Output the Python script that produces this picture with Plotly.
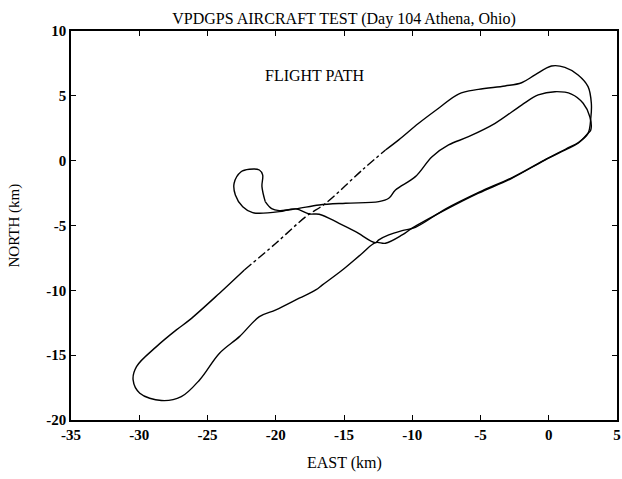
import plotly.graph_objects as go

# Flight path, solid part 1: small loop exit -> inner route -> lower diagonal -> big south loop
east_a = [-20.77, -20.3, -19.74, -18.53, -16.82, -14.88, -12.45, -11.72, -11.23, -9.77,
          -8.55, -7.34, -5.88, -3.93, -1.99, -0.77, 0.45, 1.66, 2.52, 3.01, 3.08, 2.88,
          2.15, 1.18, -0.28, -2.71, -5.15, -7.58, -10.01, -10.74, -11.96, -12.69, -13.66,
          -15.12, -16.58, -17.07, -18.28, -19.99, -21.2, -22.66, -24.12, -25.58, -26.92,
          -28.38, -29.96, -30.45, -30.2, -28.74, -27.28, -26.31, -24.12, -22.3]
north_a = [-3.16, -3.7, -3.85, -3.72, -3.42, -3.28, -3.16, -2.9, -2.26, -1.23,
           0.31, 1.21, 1.85, 2.88, 4.29, 5.07, 5.32, 5.14, 4.43, 3.39, 2.37, 2.11,
           1.34, 0.82, 0.05, -1.36, -2.51, -3.8, -5.21, -5.73, -6.37, -6.32, -7.14,
           -8.43, -9.58, -9.97, -10.61, -11.51, -12.03, -13.57, -14.85, -16.91, -18.2,
           -18.5, -17.93, -16.91, -15.88, -14.34, -13.05, -12.28, -10.22, -8.43]

# Part 2 (broken / dash-dot looking diagonal)
east_b = [-22.3, -19.99, -17.8, -16.34, -13.66, -11.96]
north_b = [-8.43, -6.37, -4.32, -3.28, -0.72, 0.82]

# Part 3: outer route -> lower diagonal -> back to small loop
east_c = [-11.96, -10.99, -9.53, -8.07, -6.61, -5.15, -3.2, -1.99, -1.01, 0.2, 1.18,
          2.15, 2.88, 3.12, 3.08, 2.88, 2.2, 1.25, -0.2, -2.65, -5.1, -7.55, -9.77,
          -10.74, -11.72, -12.45, -12.69, -14.15, -15.36, -16.82, -17.55, -18.53,
          -19.74, -21.2, -21.69, -22.42, -22.96, -23.05, -22.54, -21.93, -21.2,
          -20.96, -21.01, -20.77]
north_c = [0.82, 1.6, 2.88, 4.04, 5.14, 5.5, 5.76, 6.01, 6.61, 7.3, 7.2,
           6.61, 5.71, 4.43, 3.27, 2.11, 1.42, 0.9, 0.12, -1.28, -2.43, -3.72, -5.14,
           -5.4, -5.73, -6.11, -6.32, -5.47, -4.83, -4.13, -4.11, -3.72,
           -3.93, -4.06, -4.01, -3.55, -2.64, -1.74, -0.85, -0.66, -0.72,
           -1.1, -2.0, -3.16]

x_ticks = [-35, -30, -25, -20, -15, -10, -5, 0, 5]
y_ticks = [-20, -15, -10, -5, 0, 5, 10]

FONT = "Liberation Serif"
line_style = dict(color="black", width=1.4)

fig = go.Figure()
fig.add_trace(go.Scatter(x=east_a, y=north_a, mode="lines", line=line_style,
                         line_shape="spline", showlegend=False))
fig.add_trace(go.Scatter(x=east_b, y=north_b, mode="lines",
                         line=dict(color="black", width=1.4, dash="dashdot"),
                         line_shape="spline", showlegend=False))
fig.add_trace(go.Scatter(x=east_c, y=north_c, mode="lines", line=line_style,
                         line_shape="spline", showlegend=False))

fig.add_annotation(x=-17.1, y=6.6, text="FLIGHT PATH", showarrow=False,
                   font=dict(family=FONT, size=16, color="black"))
fig.add_annotation(xref="paper", yref="paper", x=0.5, y=-0.1105, text="EAST (km)",
                   showarrow=False, xanchor="center", yanchor="middle",
                   font=dict(family=FONT, size=16, color="black"))
fig.add_annotation(xref="paper", yref="paper", x=-0.1026, y=0.5, text="NORTH (km)",
                   showarrow=False, xanchor="center", yanchor="middle", textangle=-90,
                   font=dict(family=FONT, size=15, color="black"))

axis_common = dict(showline=True, linecolor="black", linewidth=1.6, mirror="ticks",
                   ticks="inside", ticklen=5, tickwidth=1.3, tickcolor="black",
                   showgrid=False, zeroline=False, automargin=False,
                   ticklabeloverflow="allow",
                   tickfont=dict(family=FONT, size=15, color="black"))

fig.update_layout(
    width=622, height=479,
    margin=dict(l=71, r=5, t=31, b=59),
    paper_bgcolor="white", plot_bgcolor="white",
    title=dict(text="VPDGPS AIRCRAFT TEST (Day 104 Athena, Ohio)",
               xref="paper", x=0.5, xanchor="center", y=0.962, yanchor="middle",
               font=dict(family=FONT, size=16, color="black")),
    xaxis=dict(range=[-35, 5], tickvals=x_ticks,
               ticktext=["<b>%d</b>" % v for v in x_ticks], **axis_common),
    yaxis=dict(range=[-20, 10], tickvals=y_ticks,
               ticktext=["<b>%d</b>" % v for v in y_ticks], **axis_common),
)

# Remove the browser's default 8px body margin so the 622x479 figure fills the window exactly.
fig.write_html("out.html",
               config={"displayModeBar": False},
               post_script="document.body.style.margin='0px';"
                           "document.body.style.overflow='hidden';")
